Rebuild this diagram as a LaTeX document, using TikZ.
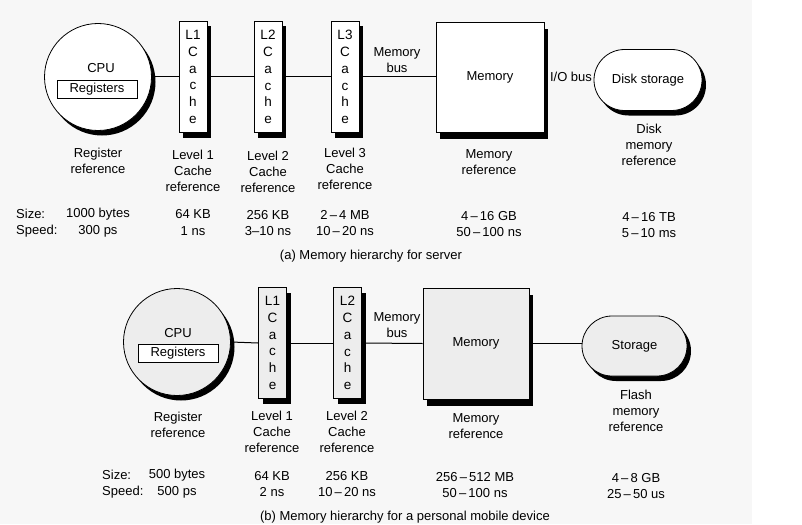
\documentclass[tikz,border=0pt]{standalone}
\usepackage{fontspec}
\setmainfont{Liberation Sans}
\usetikzlibrary{shapes.misc,shadows}
\begin{document}
\begin{tikzpicture}[x=1pt,y=-1pt,
  every node/.style={font=\fontsize{13}{16}\selectfont, inner sep=0pt},
  shad/.style={drop shadow={shadow xshift=4pt,shadow yshift=-5pt,fill=black,opacity=1}},
  shadm/.style={drop shadow={shadow xshift=4pt,shadow yshift=-7pt,fill=black,opacity=1}},
  cpubox/.style={circle,draw,line width=0.8pt,minimum size=107pt,shad},
  regbox/.style={draw,line width=0.8pt,minimum width=80pt,minimum height=18pt},
  cachebox/.style={draw,line width=0.8pt,minimum width=28pt,minimum height=111pt,align=center,shad,font=\fontsize{13.5}{16.8}\selectfont},
  membox/.style={draw,line width=0.8pt,minimum width=108pt,minimum height=110pt,shadm},
  diskbox/.style={rounded rectangle,draw,line width=0.8pt,minimum width=108pt,minimum height=61pt,shad},
  lbl/.style={align=center},
  busline/.style={line width=1pt},
  topfill/.style={fill=white},
  botfill/.style={fill=black!7}
]
\useasboundingbox (0,0) rectangle (802,524);
\fill[black!3] (0,0) rectangle (752,524);

% ---------------- (a) server ----------------
\node[cpubox,topfill] (cpuA) at (98,77) {};
\node (cpuAt) at (101,68) {CPU};
\node[regbox] (regA) at (97,89) {Registers};
\node[cachebox,topfill] (l1A) at (193,77) {L1\\C\\a\\c\\h\\e};
\node[cachebox,topfill] (l2A) at (268,77) {L2\\C\\a\\c\\h\\e};
\node[cachebox,topfill] (l3A) at (345,77) {L3\\C\\a\\c\\h\\e};
\node[membox,topfill] (memA) at (490,77) {Memory};
\node[diskbox,topfill] (stoA) at (648,80) {Disk storage};
\node[lbl] (busA) at (397,60) {Memory\\bus};
\node (ioA) at (571,77) {I/O bus};

\draw[busline] (cpuA.east) -- (l1A.west);
\draw[busline] (l1A.east) -- (l2A.west);
\draw[busline] (l2A.east) -- (l3A.west);
\draw[busline] (l3A.east) -- (memA.west);

\node[lbl] (rrA) at (98,161) {Register\\reference};
\node[lbl] (c1A) at (193,171) {Level 1\\Cache\\reference};
\node[lbl] (c2A) at (268,172) {Level 2\\Cache\\reference};
\node[lbl] (c3A) at (345,169) {Level 3\\Cache\\reference};
\node[lbl] (mrA) at (489,162) {Memory\\reference};
\node[lbl] (drA) at (649,145) {Disk\\memory\\reference};

\node[anchor=west] (sizeA) at (16,214) {Size:};
\node[anchor=west] (speedA) at (16,231) {Speed:};
\node (s1A) at (98,214) {1000 bytes};
\node (t1A) at (98,231) {300 ps};
\node (s2A) at (193,214) {64 KB};
\node (t2A) at (193,231) {1 ns};
\node (s3A) at (268,215) {256 KB};
\node (t3A) at (268,231) {3--10 ns};
\node (s4A) at (345,215) {2\,--\,4 MB};
\node (t4A) at (345,231) {10\,--\,20 ns};
\node (s5A) at (489,216) {4\,--\,16 GB};
\node (t5A) at (489,232) {50\,--\,100 ns};
\node (s6A) at (649,217) {4\,--\,16 TB};
\node (t6A) at (649,233) {5\,--\,10 ms};
\node (capA) at (371,256) {(a) Memory hierarchy for server};

% ---------------- (b) personal mobile device ----------------
\node[cpubox,botfill] (cpuB) at (177,342) {};
\node (cpuBt) at (178,333) {CPU};
\node[regbox,fill=white] (regB) at (178,353) {Registers};
\node[cachebox,botfill] (l1B) at (272.5,343) {L1\\C\\a\\c\\h\\e};
\node[cachebox,botfill] (l2B) at (347.5,343) {L2\\C\\a\\c\\h\\e};
\node[membox,botfill,minimum width=106pt,minimum height=111pt] (memB) at (476,343.5) {Memory};
\node[diskbox,botfill,minimum width=105pt,minimum height=60pt] (stoB) at (634.5,346) {Storage};
\node[lbl] (busB) at (397,325.5) {Memory\\bus};

\draw[busline] (cpuB.east) -- (l1B.west);
\draw[busline] (l1B.east) -- (l2B.west);
\draw[busline] (l2B.east) -- (memB.west);
\draw[busline] (memB.east) -- (memB.east -| stoB.west);

\node[lbl] (rrB) at (178,424.5) {Register\\reference};
\node[lbl] (c1B) at (272,432) {Level 1\\Cache\\reference};
\node[lbl] (c2B) at (347,432) {Level 2\\Cache\\reference};
\node[lbl] (mrB) at (476,426) {Memory\\reference};
\node[lbl] (frB) at (636,411) {Flash\\memory\\reference};

\node[anchor=west] (sizeB) at (102,475) {Size:};
\node[anchor=west] (speedB) at (102,492) {Speed:};
\node (s1B) at (177,475) {500 bytes};
\node (t1B) at (177,492) {500 ps};
\node (s2B) at (272,476) {64 KB};
\node (t2B) at (272,492) {2 ns};
\node (s3B) at (347,476) {256 KB};
\node (t3B) at (347,492) {10\,--\,20 ns};
\node (s4B) at (475,477) {256\,--\,512 MB};
\node (t4B) at (475,493) {50\,--\,100 ns};
\node (s5B) at (636,478) {4\,--\,8 GB};
\node (t5B) at (636,494) {25\,--\,50 us};
\node (capB) at (405,517) {(b) Memory hierarchy for a personal mobile device};
\end{tikzpicture}
\end{document}
